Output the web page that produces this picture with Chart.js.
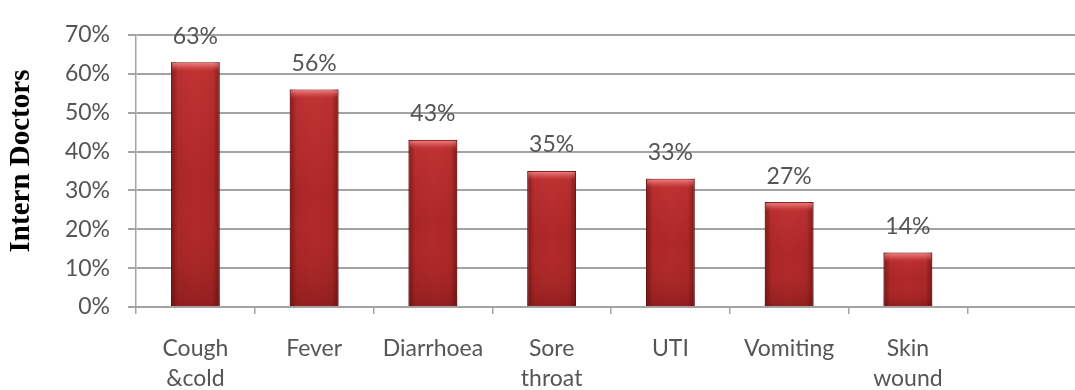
<!DOCTYPE html>
<html>
<head>
<meta charset="utf-8">
<script src="https://cdn.jsdelivr.net/npm/chart.js@4.4.1/dist/chart.umd.min.js"></script>
<style>
  html, body { margin: 0; padding: 0; background: #fff; overflow: hidden; width: 1075px; height: 390px; }
  #wrap { width: 1086px; height: 390px; }
</style>
</head>
<body>
<div id="wrap"><canvas id="chart" width="1086" height="390"></canvas></div>
<script>
// Ailments reported by intern doctors (share of respondents, %)
const categories = [['Cough', '&cold'], 'Fever', 'Diarrhoea', ['Sore', 'throat'], 'UTI', 'Vomiting', ['Skin', 'wound'], ''];
const values = [63, 56, 43, 35, 33, 27, 14];
const valueLabels = values.map(v => v + '%');
const yMin = 0, yMax = 70, yStep = 10;
const yTitle = 'Intern Doctors';

const textColor = '#555555';
const lineColor = '#a3a3a3';
const labelFont = { family: 'Lato', size: 23 };

// Shading for the bars: darker edges, brighter top cap, vertical fade
const barShade = {
  id: 'barShade',
  afterDatasetsDraw(chart) {
    const ctx = chart.ctx;
    const meta = chart.getDatasetMeta(0);
    meta.data.forEach((bar, i) => {
      const { x, y, base, width } = bar.getProps(['x', 'y', 'base', 'width'], true);
      const left = x - width / 2;
      const h = base - y;
      ctx.save();
      // vertical fade
      let g = ctx.createLinearGradient(0, y, 0, base);
      g.addColorStop(0, 'rgba(255,90,90,0.22)');
      g.addColorStop(0.5, 'rgba(255,90,90,0)');
      g.addColorStop(1, 'rgba(50,0,0,0.22)');
      ctx.fillStyle = g;
      ctx.fillRect(left, y, width, h);
      // darker edges
      g = ctx.createLinearGradient(left, 0, left + width, 0);
      g.addColorStop(0, 'rgba(60,0,0,0.45)');
      g.addColorStop(0.14, 'rgba(60,0,0,0.05)');
      g.addColorStop(0.5, 'rgba(60,0,0,0)');
      g.addColorStop(0.86, 'rgba(60,0,0,0.05)');
      g.addColorStop(1, 'rgba(60,0,0,0.45)');
      ctx.fillStyle = g;
      ctx.fillRect(left, y, width, h);
      // top cap highlight
      g = ctx.createLinearGradient(0, y, 0, y + 8);
      g.addColorStop(0, 'rgba(255,170,170,0.75)');
      g.addColorStop(1, 'rgba(255,120,120,0.05)');
      ctx.fillStyle = g;
      ctx.fillRect(left + 1, y + 1, width - 2, 8);
      // value label above the bar
      ctx.fillStyle = textColor;
      ctx.font = labelFont.size + 'px ' + labelFont.family;
      ctx.textAlign = 'center';
      ctx.textBaseline = 'middle';
      ctx.fillText(valueLabels[i], x, y - 26);
      ctx.restore();
    });
  }
};

// Rotated bold axis title on the left
const sideTitle = {
  id: 'sideTitle',
  afterDraw(chart) {
    const ctx = chart.ctx;
    ctx.save();
    ctx.translate(22, 161);
    ctx.rotate(-Math.PI / 2);
    ctx.font = 'bold 29px "Liberation Serif"';
    ctx.fillStyle = '#000';
    ctx.textAlign = 'center';
    ctx.textBaseline = 'middle';
    ctx.fillText(yTitle, 0, 0);
    ctx.restore();
  }
};

new Chart(document.getElementById('chart'), {
  type: 'bar',
  data: {
    labels: categories,
    datasets: [{
      data: values,
      backgroundColor: '#b02828',
      borderColor: '#7a1616',
      borderWidth: 1,
      barPercentage: 0.41,
      categoryPercentage: 1
    }]
  },
  options: {
    responsive: false,
    animation: false,
    devicePixelRatio: 1,
    layout: { padding: { top: 35, left: 0, right: 0, bottom: 0 } },
    plugins: { legend: { display: false }, tooltip: { enabled: false } },
    scales: {
      x: {
        offset: true,
        grid: { display: true, drawOnChartArea: false, offset: true, tickLength: 7, color: lineColor, lineWidth: 1.5 },
        border: { color: lineColor, width: 2 },
        ticks: { color: textColor, font: { ...labelFont, lineHeight: 1.3 }, padding: 20, maxRotation: 0, autoSkip: false },
        afterFit(scale) { scale.height = 83; }
      },
      y: {
        min: yMin,
        max: yMax,
        grid: { color: lineColor, lineWidth: 2, tickLength: 8 },
        border: { color: lineColor, width: 1.5 },
        ticks: { stepSize: yStep, color: textColor, font: labelFont, padding: 18, callback: v => v + '%' },
        afterFit(scale) { scale.width = 136; }
      }
    }
  },
  plugins: [barShade, sideTitle]
});
</script>
</body>
</html>
